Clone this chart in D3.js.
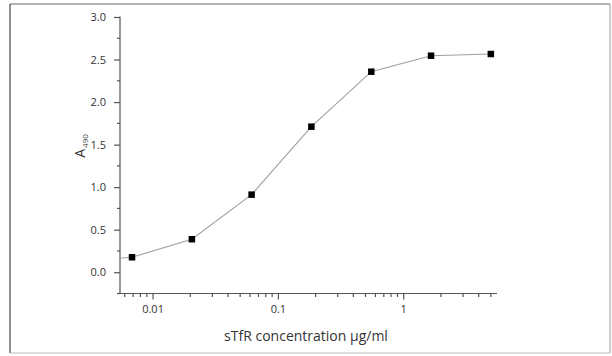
<!DOCTYPE html>
<html>
<head>
<meta charset="utf-8">
<script src="https://cdn.jsdelivr.net/npm/d3@7"></script>
<style>
  body { margin: 0; background: #fff; }
  text { font-family: "Open Sans", sans-serif; fill: #333; }
</style>
</head>
<body>
<svg id="chart" width="612" height="356"></svg>
<script>
// sTfR standard curve (3-fold dilutions)
var concentrations = [0.00686, 0.0206, 0.0617, 0.185, 0.556, 1.667, 5.0];
var absorbance = [0.176, 0.388, 0.912, 1.711, 2.357, 2.545, 2.565];
// fitted line starts at the left edge of the axis
var lineStartX = 0.0055, lineStartY = 0.165;
var yTicks = [0, 0.5, 1, 1.5, 2, 2.5, 3];
var xTicks = [0.01, 0.1, 1];

var svg = d3.select("#chart");

// frame
svg.append("line").attr("x1", 10).attr("x2", 610).attr("y1", 4).attr("y2", 4)
  .style("stroke", "#666").style("stroke-width", 1);
svg.append("line").attr("x1", 10).attr("x2", 10).attr("y1", 4).attr("y2", 353)
  .style("stroke", "#444").style("stroke-width", 1.2);
svg.append("line").attr("x1", 10).attr("x2", 610).attr("y1", 353).attr("y2", 353)
  .style("stroke", "#bbb").style("stroke-width", 1);
svg.append("line").attr("x1", 610).attr("x2", 610).attr("y1", 4).attr("y2", 353)
  .style("stroke", "#999").style("stroke-width", 1);

var x = d3.scaleLog().domain([0.0055, 5.6]).range([120, 497]);
var y = d3.scaleLinear().domain([-0.25, 3.0]).range([293.5, 17]);

var axisColor = "#555";

// y axis
var yAxis = d3.axisLeft(y).tickValues(yTicks).tickFormat(d3.format(".1f")).tickSize(6).tickPadding(8);
var gy = svg.append("g").attr("transform", "translate(120,0)").call(yAxis);
gy.select(".domain").attr("d", "M-0.5," + y(3.0) + "H0V" + y(-0.25));
gy.selectAll("line, path").style("stroke", axisColor).style("stroke-width", 1.2);
gy.selectAll("text").style("font-size", "11px").style("fill", "#333").style("font-family", "Open Sans, sans-serif");

var yMinor = d3.range(-0.25, 3.0, 0.5);
svg.append("g").selectAll("line").data(yMinor).join("line")
  .attr("x1", 117).attr("x2", 120).attr("y1", function(d){ return y(d); }).attr("y2", function(d){ return y(d); })
  .style("stroke", axisColor).style("stroke-width", 1.2);

// x axis
var xAxis = d3.axisBottom(x).tickValues(xTicks).tickFormat(function(d){ return String(d); }).tickSize(6).tickPadding(6);
var gx = svg.append("g").attr("transform", "translate(0,293.5)").call(xAxis);
gx.select(".domain").attr("d", "M" + x.range()[0] + ",0H" + x.range()[1]);
gx.selectAll("line, path").style("stroke", axisColor).style("stroke-width", 1.2);
gx.selectAll("text").style("font-size", "11px").style("fill", "#333").style("font-family", "Open Sans, sans-serif");

var xMinor = [];
[0.001, 0.01, 0.1, 1].forEach(function(dec){
  for (var k = 2; k <= 9; k++) {
    var v = dec * k;
    if (v >= x.domain()[0] && v <= x.domain()[1]) xMinor.push(v);
  }
});
svg.append("g").selectAll("line").data(xMinor).join("line")
  .attr("x1", function(d){ return x(d); }).attr("x2", function(d){ return x(d); })
  .attr("y1", 293.5).attr("y2", 297)
  .style("stroke", axisColor).style("stroke-width", 1.2);

// line
var pts = concentrations.map(function(c, i){ return [c, absorbance[i]]; });
var linePts = [[lineStartX, lineStartY]].concat(pts);
svg.append("path").datum(linePts)
  .attr("d", d3.line().x(function(d){ return x(d[0]); }).y(function(d){ return y(d[1]); }))
  .style("fill", "none").style("stroke", "#a0a0a0").style("stroke-width", 1.1);

// markers
var s = 6.5;
svg.append("g").selectAll("rect").data(pts).join("rect")
  .attr("x", function(d){ return x(d[0]) - s / 2; })
  .attr("y", function(d){ return y(d[1]) - s / 2; })
  .attr("width", s).attr("height", s)
  .style("fill", "#000");

// axis titles
svg.append("text")
  .attr("x", 306).attr("y", 341)
  .style("text-anchor", "middle").style("font-size", "14px")
  .text("sTfR concentration µg/ml");

var yt = svg.append("text")
  .attr("transform", "translate(85,146) rotate(-90)")
  .style("text-anchor", "middle").style("font-size", "14px");
yt.append("tspan").text("A");
yt.append("tspan").attr("dy", 3).attr("dx", 1).style("font-size", "8px").text("490");
</script>
</body>
</html>
